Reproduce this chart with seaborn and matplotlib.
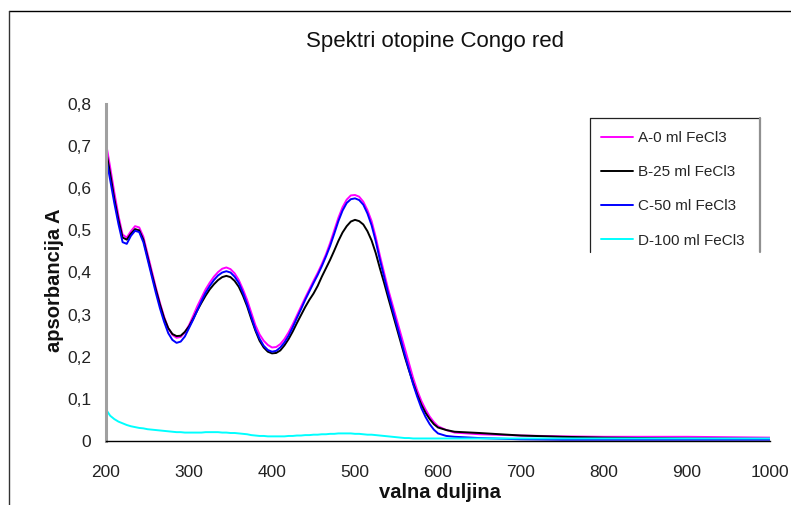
import matplotlib
matplotlib.use("Agg")
import matplotlib.pyplot as plt
from matplotlib.lines import Line2D
import numpy as np
import pandas as pd
import seaborn as sns

# wavelength grid: every 5 nm from 200 to 600, then sparser tail
wavelength = list(range(200, 605, 5)) + [610, 620, 650, 700, 750, 800, 900, 1000]

series_a = [0.707, 0.65, 0.59, 0.535, 0.49, 0.483, 0.498, 0.51, 0.507, 0.485,
            0.445, 0.405, 0.365, 0.328, 0.295, 0.268, 0.252, 0.245, 0.247, 0.258,
            0.275, 0.297, 0.32, 0.34, 0.36, 0.376, 0.39, 0.401, 0.409, 0.412,
            0.408, 0.398, 0.382, 0.36, 0.335, 0.305, 0.275, 0.253, 0.238, 0.228,
            0.222, 0.223, 0.23, 0.242, 0.258, 0.277, 0.298, 0.319, 0.34, 0.36,
            0.38, 0.399, 0.42, 0.443, 0.47, 0.5, 0.53, 0.555, 0.573, 0.583,
            0.584, 0.58, 0.568, 0.548, 0.522, 0.484, 0.44, 0.40, 0.36, 0.325,
            0.29, 0.255, 0.22, 0.185, 0.15, 0.12, 0.095, 0.075, 0.058, 0.045,
            0.035,
            0.026, 0.02, 0.016, 0.013, 0.011, 0.010, 0.010, 0.008]

series_b = [0.69, 0.635, 0.575, 0.525, 0.483, 0.478, 0.492, 0.503, 0.50, 0.478,
            0.438, 0.398, 0.36, 0.324, 0.292, 0.268, 0.254, 0.249, 0.25, 0.259,
            0.272, 0.29, 0.31, 0.328, 0.345, 0.36, 0.372, 0.382, 0.389, 0.392,
            0.389, 0.38, 0.366, 0.345, 0.32, 0.29, 0.262, 0.238, 0.222, 0.212,
            0.208, 0.209, 0.215, 0.227, 0.242, 0.26, 0.28, 0.299, 0.318, 0.335,
            0.35, 0.368, 0.39, 0.41, 0.43, 0.452, 0.475, 0.495, 0.51, 0.521,
            0.525, 0.522, 0.514, 0.498, 0.476, 0.446, 0.41, 0.376, 0.34, 0.305,
            0.27, 0.235, 0.2, 0.168, 0.138, 0.11, 0.086, 0.067, 0.052, 0.04,
            0.032,
            0.026, 0.022, 0.019, 0.013, 0.010, 0.008, 0.006, 0.005]

series_c = [0.675, 0.62, 0.565, 0.515, 0.472, 0.468, 0.487, 0.499, 0.496, 0.472,
            0.432, 0.392, 0.352, 0.315, 0.283, 0.256, 0.24, 0.233, 0.236, 0.248,
            0.268, 0.288, 0.31, 0.332, 0.352, 0.368, 0.382, 0.393, 0.40, 0.403,
            0.40, 0.39, 0.375, 0.352, 0.325, 0.295, 0.265, 0.243, 0.226, 0.216,
            0.212, 0.214, 0.222, 0.234, 0.25, 0.27, 0.292, 0.313, 0.335, 0.355,
            0.375, 0.394, 0.415, 0.438, 0.463, 0.492, 0.522, 0.547, 0.565, 0.574,
            0.576, 0.572, 0.561, 0.54, 0.512, 0.474, 0.43, 0.39, 0.35, 0.314,
            0.278, 0.242, 0.205, 0.17, 0.135, 0.105, 0.078, 0.057, 0.04, 0.027,
            0.018,
            0.012, 0.01, 0.007, 0.004, 0.003, 0.003, 0.003, 0.003]

series_d = [0.075, 0.060, 0.052, 0.046, 0.042, 0.038, 0.035, 0.033, 0.031, 0.030,
            0.028, 0.027, 0.026, 0.025, 0.024, 0.023, 0.022, 0.021, 0.021, 0.020,
            0.020, 0.020, 0.020, 0.020, 0.021, 0.021, 0.021, 0.021, 0.020, 0.020,
            0.019, 0.019, 0.018, 0.017, 0.016, 0.014, 0.013, 0.012, 0.012, 0.011,
            0.011, 0.011, 0.011, 0.011, 0.012, 0.012, 0.013, 0.013, 0.014, 0.014,
            0.015, 0.015, 0.016, 0.016, 0.017, 0.017, 0.018, 0.018, 0.018, 0.018,
            0.017, 0.017, 0.016, 0.015, 0.015, 0.014, 0.013, 0.012, 0.011, 0.010,
            0.009, 0.008, 0.007, 0.007, 0.006, 0.006, 0.006, 0.006, 0.006, 0.006,
            0.006,
            0.006, 0.006, 0.006, 0.006, 0.006, 0.006, 0.006, 0.006]

labels = ["A-0 ml FeCl3", "B-25 ml FeCl3", "C-50 ml FeCl3", "D-100 ml FeCl3"]
colors = ["#FF00FF", "#000000", "#0000FF", "#00FFFF"]

x_ticks = [200, 300, 400, 500, 600, 700, 800, 900, 1000]
y_ticks = [0, 0.1, 0.2, 0.3, 0.4, 0.5, 0.6, 0.7, 0.8]
y_tick_labels = ["0", "0,1", "0,2", "0,3", "0,4", "0,5", "0,6", "0,7", "0,8"]

frames = []
for lab, vals in zip(labels, [series_a, series_b, series_c, series_d]):
    frames.append(pd.DataFrame({"wl": wavelength, "A": vals, "series": lab}))
df = pd.concat(frames, ignore_index=True)

sns.set_style("white")
plt.rcParams["font.family"] = ["Liberation Sans", "DejaVu Sans"]

W, H = 791, 505
fig = plt.figure(figsize=(W / 100, H / 100), dpi=100)
ax = fig.add_axes([106 / W, 1 - 441 / H, (770 - 106) / W, (441 - 104) / H])

sns.lineplot(data=df, x="wl", y="A", hue="series", palette=dict(zip(labels, colors)),
             estimator=None, sort=False, linewidth=1.4, ax=ax, legend=False)

ax.set_xlim(200, 1000)
ax.set_ylim(0, 0.8)
ax.set_xticks(x_ticks)
ax.set_xticklabels([str(t) for t in x_ticks])
ax.set_yticks(y_ticks)
ax.set_yticklabels(y_tick_labels)
ax.tick_params(axis="both", direction="out", length=4.5, width=0.9, colors="#404040",
               labelcolor="#222222", labelsize=12.5)
ax.tick_params(axis="y", pad=6)
ax.tick_params(axis="x", pad=13)

for s in ["top", "right"]:
    ax.spines[s].set_visible(False)
ax.spines["left"].set_color("#a0a0a0")
ax.spines["left"].set_linewidth(2.2)
ax.spines["bottom"].set_color("#000000")
ax.spines["bottom"].set_linewidth(1.0)

ax.set_xlabel("")
ax.set_ylabel("")
fig.text(440 / W, 1 - 493 / H, "valna duljina", ha="center", va="center",
         fontsize=14.5, fontweight="bold", color="#111111")
fig.text(55 / W, 1 - 280 / H, "apsorbancija A", ha="center", va="center",
         rotation=90, fontsize=14.5, fontweight="bold", color="#111111")
fig.text(435 / W, 1 - 42 / H, "Spektri otopine Congo red", ha="center", va="center",
         fontsize=16, color="#111111")

# legend
handles = [Line2D([0], [0], color=c, lw=1.4) for c in colors]
leg = fig.legend(handles, labels, loc="upper left",
                 bbox_to_anchor=(595 / W, 1 - 125 / H), frameon=False,
                 fontsize=11, handlelength=2.1, handletextpad=0.33,
                 labelspacing=1.32, borderpad=0.4, borderaxespad=0)

# legend frame (left/top dark, right grey)
fig.add_artist(Line2D([590 / W, 760 / W], [1 - 118 / H, 1 - 118 / H], color="#222222", lw=0.9))
fig.add_artist(Line2D([590 / W, 590 / W], [1 - 118 / H, 1 - 252 / H], color="#222222", lw=0.9))
fig.add_artist(Line2D([760 / W, 760 / W], [1 - 118 / H, 1 - 252 / H], color="#909090", lw=1.6))

# outer chart border (top and left)
fig.add_artist(Line2D([9 / W, 1.0], [1 - 11 / H, 1 - 11 / H], color="#000000", lw=1.0))
fig.add_artist(Line2D([9 / W, 9 / W], [1 - 11 / H, 0.0], color="#333333", lw=1.0))

fig.savefig("out.png", dpi=100)
